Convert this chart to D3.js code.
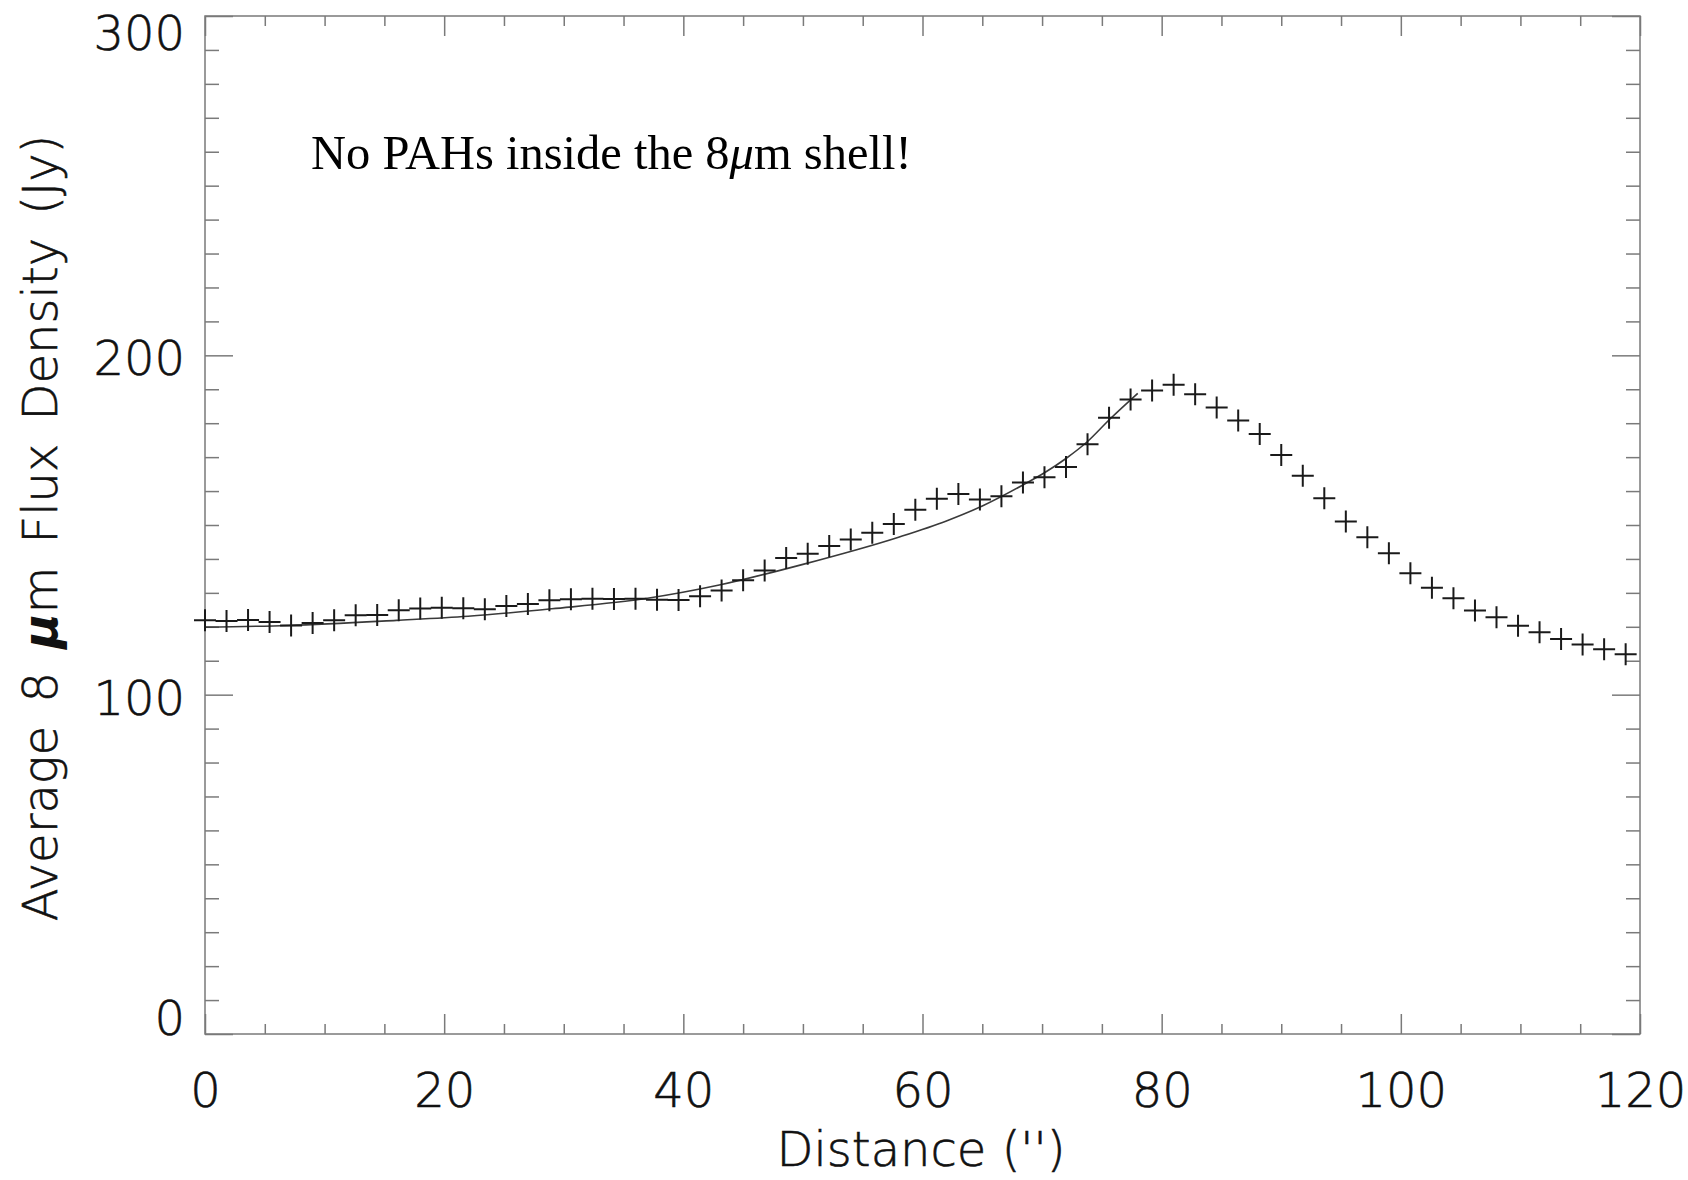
<!DOCTYPE html>
<html>
<head>
<meta charset="utf-8">
<script src="https://cdn.jsdelivr.net/npm/d3@7"></script>
<style>
  html, body { margin: 0; padding: 0; background: #fff; }
  svg { display: block; }
</style>
</head>
<body>
<svg id="chart" width="1688" height="1180"></svg>
<script>
// Azimuthally averaged 8 micron profile across the shell
const distance = [
  0, 1.8, 3.6, 5.4, 7.2, 9, 10.8, 12.6, 14.4, 16.2, 18, 19.8, 21.6, 23.4, 25.2, 27, 28.8,
  30.6, 32.4, 34.2, 36, 37.8, 39.6, 41.4, 43.2, 45, 46.8, 48.6, 50.4, 52.2, 54, 55.8, 57.6,
  59.4, 61.2, 63, 64.8, 66.6, 68.4, 70.2, 72, 73.8, 75.6, 77.4, 79.2, 81, 82.8, 84.6, 86.4,
  88.2, 90, 91.8, 93.6, 95.4, 97.2, 99, 100.8, 102.6, 104.4, 106.2, 108, 109.8, 111.6,
  113.4, 115.2, 117, 118.8
];
const flux = [
  121.9, 121.7, 122.0, 121.4, 120.4, 121.1, 121.9, 123.4, 123.5, 124.9, 125.4, 125.6, 125.5,
  125.2, 126.1, 126.7, 127.8, 128.1, 128.3, 128.2, 128.3, 128.0, 127.9, 129.0, 130.7, 133.7,
  136.6, 140.3, 141.5, 143.8, 145.7, 147.7, 150.3, 154.5, 157.7, 159.1, 157.5, 158.5, 162.5,
  164.1, 167.1, 173.8, 181.6, 187.0, 189.6, 191.3, 188.5, 184.6, 180.8, 176.8, 170.6, 164.5,
  157.9, 151.0, 146.4, 141.7, 135.8, 131.5, 128.4, 124.8, 122.8, 120.3, 118.4, 116.4, 114.8,
  113.4, 111.9
];

// Model profile (solid curve) inside the shell
const modelDistance = [0, 7, 16, 22, 29, 37, 43, 50, 58, 62, 65, 68.4, 70.2, 72, 73.8, 75.7, 78];
const modelFlux = [119.9, 120.4, 121.9, 123.1, 125.3, 128.4, 132.3, 138.4, 146.4, 151.2, 155.6, 161.8, 165.4, 169.6, 174.6, 181.3, 188.8];

// Axis ticks
const xMajorTicks = [0, 20, 40, 60, 80, 100, 120];
const xMinorTicks = [5, 10, 15, 25, 30, 35, 45, 50, 55, 65, 70, 75, 85, 90, 95, 105, 110, 115];
const yMajorTicks = [0, 100, 200, 300];
const yMinorTicks = [10, 20, 30, 40, 50, 60, 70, 80, 90, 110, 120, 130, 140, 150, 160, 170, 180, 190,
  210, 220, 230, 240, 250, 260, 270, 280, 290];

const xTitle = "Distance ('')";
const note = "No PAHs inside the 8";

const svg = d3.select("#chart");
const plot = { left: 205, right: 1640, top: 16, bottom: 1034 };

const x = d3.scaleLinear().domain([0, 120]).range([plot.left, plot.right]);
const y = d3.scaleLinear().domain([0, 300]).range([plot.bottom, plot.top]);

const axisColor = "#7a7a7a";
const labelFont = "'DejaVu Sans', sans-serif";
const labelWeight = 200;

// Thin sans labels, slightly thickened with a hairline outline
function labelStyle(sel) {
  sel.attr("fill", "#111")
    .attr("stroke", "#111")
    .attr("stroke-width", 0.6)
    .style("font-family", labelFont)
    .style("font-weight", labelWeight)
    .style("font-size", "48px");
}

function styleAxis(g) {
  g.select(".domain").remove();
  g.selectAll(".tick line").attr("stroke", axisColor).attr("stroke-width", 1.5);
  g.selectAll(".tick text").call(labelStyle);
}

// Bottom axis: major (labelled) and minor ticks pointing inward
svg.append("g")
  .attr("transform", `translate(0,${plot.bottom})`)
  .call(d3.axisBottom(x).tickValues(xMajorTicks).tickSizeInner(-20).tickSizeOuter(0)
    .tickPadding(39).tickFormat(d3.format("d")))
  .call(styleAxis);
svg.append("g")
  .attr("transform", `translate(0,${plot.bottom})`)
  .call(d3.axisBottom(x).tickValues(xMinorTicks).tickSizeInner(-10).tickSizeOuter(0).tickFormat(""))
  .call(styleAxis);

// Top axis
svg.append("g")
  .attr("transform", `translate(0,${plot.top})`)
  .call(d3.axisTop(x).tickValues(xMajorTicks).tickSizeInner(-20).tickSizeOuter(0).tickFormat(""))
  .call(styleAxis);
svg.append("g")
  .attr("transform", `translate(0,${plot.top})`)
  .call(d3.axisTop(x).tickValues(xMinorTicks).tickSizeInner(-10).tickSizeOuter(0).tickFormat(""))
  .call(styleAxis);

// Left axis, labels kept inside the vertical extent of the frame
const leftAxis = svg.append("g")
  .attr("transform", `translate(${plot.left},0)`)
  .call(d3.axisLeft(y).tickValues(yMajorTicks).tickSizeInner(-28).tickSizeOuter(0)
    .tickPadding(20).tickFormat(d3.format("d")))
  .call(styleAxis);
leftAxis.selectAll(".tick text")
  .attr("dy", "0.365em")
  .attr("y", d => {
    const ty = y(d);
    const cy = Math.max(plot.top + 16, Math.min(plot.bottom - 17, ty + 2));
    return cy - ty;
  });
svg.append("g")
  .attr("transform", `translate(${plot.left},0)`)
  .call(d3.axisLeft(y).tickValues(yMinorTicks).tickSizeInner(-14).tickSizeOuter(0).tickFormat(""))
  .call(styleAxis);

// Right axis
svg.append("g")
  .attr("transform", `translate(${plot.right},0)`)
  .call(d3.axisRight(y).tickValues(yMajorTicks).tickSizeInner(-28).tickSizeOuter(0).tickFormat(""))
  .call(styleAxis);
svg.append("g")
  .attr("transform", `translate(${plot.right},0)`)
  .call(d3.axisRight(y).tickValues(yMinorTicks).tickSizeInner(-14).tickSizeOuter(0).tickFormat(""))
  .call(styleAxis);

// Frame
svg.append("rect")
  .attr("x", plot.left).attr("y", plot.top)
  .attr("width", plot.right - plot.left).attr("height", plot.bottom - plot.top)
  .attr("fill", "none").attr("stroke", axisColor).attr("stroke-width", 1.5);

// Model curve
const line = d3.line()
  .x((d, i) => x(modelDistance[i]))
  .y(d => y(d))
  .curve(d3.curveMonotoneX);
svg.append("path")
  .datum(modelFlux)
  .attr("d", line)
  .attr("fill", "none")
  .attr("stroke", "#3a3a3a")
  .attr("stroke-width", 1.6);

// Measured profile as plus markers
svg.append("g")
  .selectAll("path")
  .data(flux)
  .join("path")
  .attr("transform", (d, i) => `translate(${x(distance[i])},${y(d)})`)
  .attr("d", "M-11,0H11M0,-11V11")
  .attr("fill", "none")
  .attr("stroke", "#1a1a1a")
  .attr("stroke-width", 2);

// Axis titles
svg.append("text")
  .attr("x", 921).attr("y", 1166)
  .attr("text-anchor", "middle")
  .call(labelStyle)
  .text(xTitle);

const yTitle = svg.append("text")
  .attr("transform", "translate(57,528) rotate(-90)")
  .attr("text-anchor", "middle")
  .call(labelStyle)
  .style("word-spacing", "8px");
yTitle.append("tspan").text("Average 8 ");
yTitle.append("tspan").style("font-style", "italic").style("font-weight", "bold").attr("stroke-width", 0).text("\u03BC");
yTitle.append("tspan").text("m Flux Density (Jy)");

// Annotation
const ann = svg.append("text")
  .attr("x", 311).attr("y", 169)
  .style("font-family", "'Liberation Serif', 'Times New Roman', serif")
  .style("font-size", "48.5px")
  .attr("fill", "#000");
ann.append("tspan").text(note);
ann.append("tspan").style("font-style", "italic").text("\u03BC");
ann.append("tspan").text("m shell!");
</script>
</body>
</html>
